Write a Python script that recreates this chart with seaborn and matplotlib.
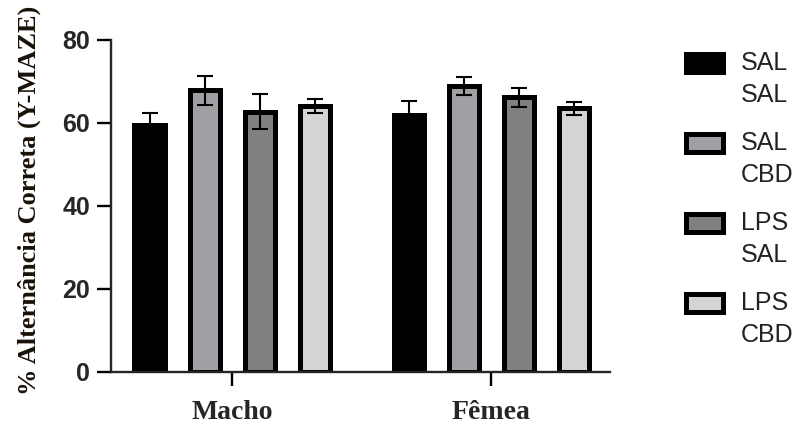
import pandas as pd
import seaborn as sns
import matplotlib.pyplot as plt
from matplotlib.patches import Patch, Rectangle
from matplotlib.legend_handler import HandlerPatch

sexo = ["Macho", "Fêmea"]
grupos = ["SAL\nSAL", "SAL\nCBD", "LPS\nSAL", "LPS\nCBD"]
cores = ["#000000", "#A0A0A4", "#808080", "#D4D4D4"]

media_macho = [59.4, 67.8, 62.6, 64.0]
media_femea = [61.9, 68.8, 66.1, 63.4]
epm_macho = [2.8, 3.5, 4.2, 1.8]
epm_femea = [3.2, 2.1, 2.3, 1.6]

linhas = []
for s, medias, epms in [("Macho", media_macho, epm_macho), ("Fêmea", media_femea, epm_femea)]:
    for g, m, e in zip(grupos, medias, epms):
        linhas.append({"sexo": s, "grupo": g, "media": m, "epm": e})
df = pd.DataFrame(linhas)

sns.set_style("ticks")
plt.rcParams["font.family"] = ["Liberation Sans", "DejaVu Sans"]

fig = plt.figure(figsize=(8, 4.25), dpi=100)
ax = fig.add_axes([0.139, 0.125, 0.624, 0.782])

sns.barplot(data=df, x="sexo", y="media", hue="grupo", order=sexo, hue_order=grupos,
            palette=cores, edgecolor="black", linewidth=3.6, width=0.85, gap=0.45,
            errorbar=None, legend=False, ax=ax)

# barras de erro (média ± EPM) sobre cada barra
for cont, g in zip(ax.containers, grupos):
    sub = df[df["grupo"] == g].set_index("sexo").loc[sexo]
    xs = [b.get_x() + b.get_width() / 2 for b in cont]
    ax.errorbar(xs, sub["media"], yerr=sub["epm"], fmt="none", ecolor="black",
                elinewidth=1.5, capsize=6, capthick=1.5, zorder=3)

ax.set_ylim(0, 80)
ax.set_yticks([0, 20, 40, 60, 80])
ax.set_xlim(-0.467, 1.46)
sns.despine(ax=ax)
for lado in ["left", "bottom"]:
    ax.spines[lado].set_linewidth(1.7)
ax.tick_params(axis="both", width=1.7, length=10, color="black")
ax.tick_params(axis="y", pad=5)
ax.tick_params(axis="x", pad=10)

for t in ax.get_yticklabels():
    t.set_fontfamily("Liberation Sans")
    t.set_fontweight("bold")
    t.set_fontsize(18)
for t in ax.get_xticklabels():
    t.set_fontfamily("Liberation Serif")
    t.set_fontweight("bold")
    t.set_fontsize(20)

ax.set_xlabel("")
ax.set_ylabel("% Alternância Correta (Y-MAZE)", fontfamily="Liberation Serif",
              fontweight="bold", fontsize=19, color="#1a1208")
ax.yaxis.set_label_coords(-0.14, 0.515)


# caixa da legenda alinhada com a primeira linha do texto
def caixa_topo(legend, orig_handle, xdescent, ydescent, width, height, fontsize):
    return Rectangle((-xdescent, -ydescent + 0.68 * fontsize), width, height)


handles = [Patch(facecolor=c, edgecolor="black", linewidth=3.6) for c in cores]
leg = fig.legend(handles, grupos, loc="upper left", bbox_to_anchor=(686 / 800, 1 - 51 / 425),
                 frameon=False, fontsize=18, handlelength=1.47, handleheight=0.74,
                 handletextpad=0.72, labelspacing=0.98, borderpad=0, borderaxespad=0,
                 handler_map={Patch: HandlerPatch(patch_func=caixa_topo)})
for t in leg.get_texts():
    t.set_linespacing(1.4)
    t.set_color("#222222")

fig.savefig("out.png", dpi=100)
